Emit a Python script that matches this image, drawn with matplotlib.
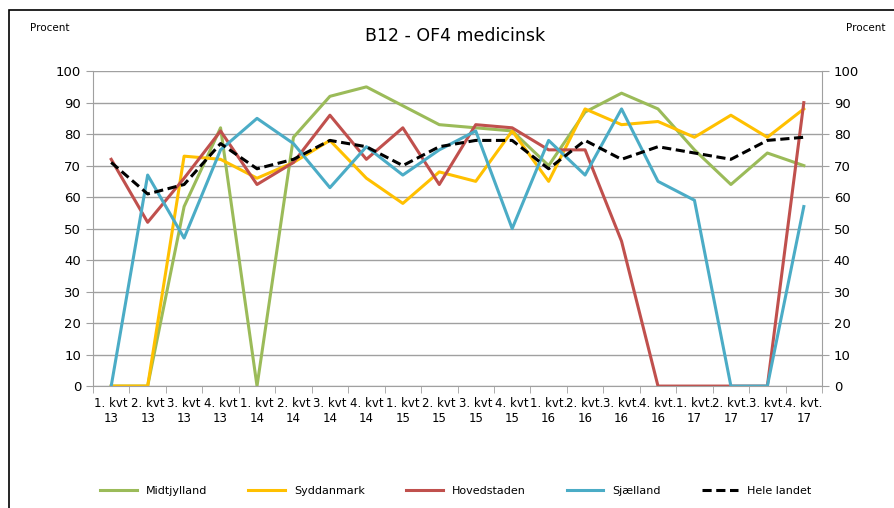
import matplotlib.pyplot as plt
import numpy as np
from matplotlib.patches import Rectangle

quarters = ["1. kvt\n13", "2. kvt\n13", "3. kvt\n13", "4. kvt\n13",
            "1. kvt\n14", "2. kvt\n14", "3. kvt\n14", "4. kvt\n14",
            "1. kvt\n15", "2. kvt\n15", "3. kvt\n15", "4. kvt\n15",
            "1. kvt.\n16", "2. kvt.\n16", "3. kvt.\n16", "4. kvt.\n16",
            "1. kvt.\n17", "2. kvt.\n17", "3. kvt.\n17", "4. kvt.\n17"]

midtjylland = [0, 0, 57, 82, 0, 79, 92, 95, 89, 83, 82, 81, 70, 87, 93, 88, 75, 64, 74, 70]
syddanmark = [0, 0, 73, 72, 66, 71, 78, 66, 58, 68, 65, 81, 65, 88, 83, 84, 79, 86, 79, 88]
hovedstaden = [72, 52, 66, 81, 64, 71, 86, 72, 82, 64, 83, 82, 75, 75, 46, 0, 0, 0, 0, 90]
sjaelland = [0, 67, 47, 75, 85, 77, 63, 76, 67, 75, 81, 50, 78, 67, 88, 65, 59, 0, 0, 57]
hele_landet = [71, 61, 64, 77, 69, 72, 78, 76, 70, 76, 78, 78, 69, 78, 72, 76, 74, 72, 78, 79]

fig = plt.figure(figsize=(8.94, 5.08), dpi=100)
ax = fig.add_axes([0.104, 0.240, 0.8155, 0.620])

x = np.arange(len(quarters))
ax.plot(x, midtjylland, color="#9BBB59", lw=2.2, label="Midtjylland")
ax.plot(x, syddanmark, color="#FFC000", lw=2.2, label="Syddanmark")
ax.plot(x, hovedstaden, color="#C0504D", lw=2.2, label="Hovedstaden")
ax.plot(x, sjaelland, color="#4BACC6", lw=2.2, label="Sjælland")
ax.plot(x, hele_landet, color="black", lw=2.2, ls=(0, (3, 1.5)), label="Hele landet")

ax.set_xlim(-0.5, len(quarters) - 0.5)
ax.set_ylim(0, 100)
ax.set_yticks(np.arange(0, 101, 10))
ax.grid(axis="y", color="#A0A0A0", lw=1)
ax.set_axisbelow(True)

ax.set_xticks(x)
ax.set_xticklabels(quarters, fontsize=8.5)
ax.set_xticks(np.arange(-0.5, len(quarters), 1), minor=True)
ax.tick_params(axis="x", which="major", length=0, pad=8)
ax.tick_params(axis="x", which="minor", length=5, color="#A0A0A0", direction="out")
ax.tick_params(axis="y", length=5, color="#A0A0A0", labelsize=9.5)

for s in ["top", "right"]:
    ax.spines[s].set_visible(False)
for s in ["left", "bottom"]:
    ax.spines[s].set_color("#A0A0A0")

ax2 = ax.twinx()
ax2.set_ylim(0, 100)
ax2.set_yticks(np.arange(0, 101, 10))
ax2.tick_params(axis="y", length=5, color="#A0A0A0", labelsize=9.5)
for s in ["top", "left", "bottom"]:
    ax2.spines[s].set_visible(False)
ax2.spines["right"].set_color("#A0A0A0")

fig.text(0.509, 0.93, "B12 - OF4 medicinsk", ha="center", va="center", fontsize=12.5)
fig.text(0.056, 0.944, "Procent", ha="center", va="center", fontsize=7.5)
fig.text(0.968, 0.944, "Procent", ha="center", va="center", fontsize=7.5)

fig.legend(loc="center", bbox_to_anchor=(0.51, 0.033), ncol=5, frameon=False,
           fontsize=8, handlelength=3.3, columnspacing=3.7)

# outer frame (right and bottom edges fall outside the image)
fig.patches.append(Rectangle((0.010, -0.01), 1.0, 0.99, transform=fig.transFigure,
                             fill=False, edgecolor="black", lw=1.2))

fig.savefig("out.png", dpi=100)
